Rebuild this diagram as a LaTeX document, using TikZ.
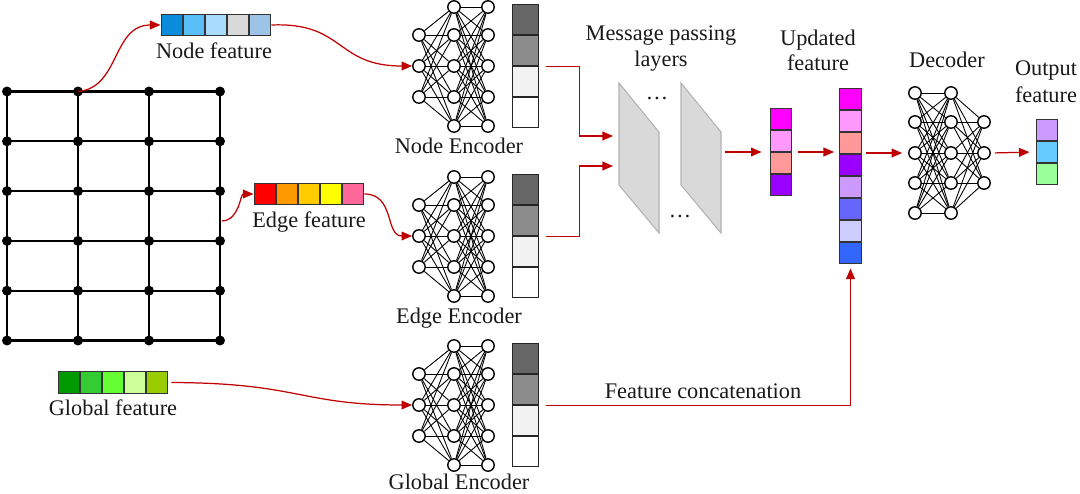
\documentclass[tikz,border=0pt]{standalone}
\usepackage{fontspec}
\setmainfont{Liberation Serif}
\newfontfamily\tnrfont{Liberation Serif}
\usetikzlibrary{arrows.meta,calc}
\newlength{\pxu}\setlength{\pxu}{0.5669pt}
\definecolor{myred}{HTML}{C00000}
\definecolor{nfa}{HTML}{0A8BDC}\definecolor{nfb}{HTML}{5ABFF8}\definecolor{nfc}{HTML}{A7DCFD}\definecolor{nfd}{HTML}{D9D9D9}\definecolor{nfe}{HTML}{9DC3E6}
\definecolor{efa}{HTML}{FF0000}\definecolor{efb}{HTML}{FF9900}\definecolor{efc}{HTML}{FFCC00}\definecolor{efd}{HTML}{FFFF00}\definecolor{efe}{HTML}{FF6699}
\definecolor{gfa}{HTML}{009900}\definecolor{gfb}{HTML}{33CC33}\definecolor{gfc}{HTML}{66FF33}\definecolor{gfd}{HTML}{CCFF99}\definecolor{gfe}{HTML}{99CC00}
\definecolor{enca}{HTML}{666666}\definecolor{encb}{HTML}{8C8C8C}\definecolor{encc}{HTML}{F2F2F2}\definecolor{encd}{HTML}{FFFFFF}
\definecolor{ufa}{HTML}{FF00FF}\definecolor{ufb}{HTML}{FF99FF}\definecolor{ufc}{HTML}{FF9999}\definecolor{ufd}{HTML}{9900FF}
\definecolor{ufe}{HTML}{CC99FF}\definecolor{uff}{HTML}{6666FF}\definecolor{ufg}{HTML}{CCCCFF}\definecolor{ufh}{HTML}{3366FF}
\definecolor{ofa}{HTML}{CC99FF}\definecolor{ofb}{HTML}{66CCFF}\definecolor{ofc}{HTML}{99FF99}
\tikzset{
  dot/.style={circle,fill=black,inner sep=0pt,minimum size=10\pxu},
  gridline/.style={line width=1.2pt,black},
  neuron/.style={circle,draw=black,line width=0.8pt,fill=white,inner sep=0pt,minimum size=12.5\pxu},
  conn/.style={line width=0.5pt,black},
  cell/.style={rectangle,draw=black!80,line width=0.6pt,fill=#1,inner sep=0pt,minimum width=22\pxu,minimum height=22\pxu},
  mcell/.style={rectangle,draw=black!85,line width=0.6pt,fill=#1,inner sep=0pt,minimum width=27\pxu,minimum height=31\pxu},
  redarrow/.style={draw=myred,line width=0.7pt,-{Triangle[length=6pt,width=5pt]}},
  lbl/.style={font=\tnrfont\fontsize{12.7}{15}\selectfont,text=black!90,inner sep=0pt,anchor=base},
  mplayer/.style={fill=black!15,draw=black!30,line width=0.6pt},
}
\newcommand{\encoderblock}[2]{%
  \foreach \i/\y in {1/35,2/66,3/97}{\node[neuron] (#1a\i) at (419,{\y+#2}) {};}
  \foreach \i/\y in {1/7,2/35,3/66,4/97,5/126}{%
    \node[neuron] (#1b\i) at (454,{\y+#2}) {};
    \node[neuron] (#1c\i) at (488,{\y+#2}) {};}
  \foreach \i in {1,2,3}{\foreach \j in {1,...,5}{\draw[conn] (#1a\i) -- (#1b\j);}}
  \foreach \i in {1,...,5}{\foreach \j in {1,...,5}{\draw[conn] (#1b\i) -- (#1c\j);}}
  \foreach \k/\col in {1/enca,2/encb,3/encc,4/encd}{\node[mcell=\col] (#1m\k) at (525.5,{-11.5+31*\k+#2}) {};}
}
\begin{document}
\begin{tikzpicture}[x=0.02cm,y=-0.02cm]
\useasboundingbox (0,0) rectangle (1080,494);
% grid
\foreach \c/\x in {1/7,2/78,3/149,4/220}{
  \foreach \r/\y in {1/91.5,2/141.3,3/191.1,4/240.9,5/290.7,6/340.5}{
    \node[dot] (g\c-\r) at (\x,\y) {};}}
\foreach \c in {1,...,4}{\draw[gridline] (g\c-1.center) -- (g\c-6.center);}
\foreach \r in {1,...,6}{\draw[gridline] (g1-\r.center) -- (g4-\r.center);}
\coordinate (e0) at (222,221);
% feature bars
\foreach \k/\col in {1/nfa,2/nfb,3/nfc,4/nfd,5/nfe}{\node[cell=\col] (nf\k) at ({150+22*\k},25) {};}
\foreach \k/\col in {1/efa,2/efb,3/efc,4/efd,5/efe}{\node[cell=\col] (ef\k) at ({243+22*\k},194) {};}
\foreach \k/\col in {1/gfa,2/gfb,3/gfc,4/gfd,5/gfe}{\node[cell=\col] (gf\k) at ({47+22*\k},382.5) {};}
\node[lbl] (nflab) at (214,58) {Node feature};
\node[lbl] (eflab) at (309,227) {Edge feature};
\node[lbl] (gflab) at (113,415) {Global feature};
% encoders
\encoderblock{ne}{0}
\encoderblock{ee}{170}
\encoderblock{ge}{339}
\node[lbl] (nelab) at (459,153) {Node Encoder};
\node[lbl] (eelab) at (459,323) {Edge Encoder};
\node[lbl] (gelab) at (459,489) {Global Encoder};
% message passing layers
\draw[mplayer] (619,83) -- (659,132) -- (659,233) -- (619,185) -- cycle;
\draw[mplayer] (681,83) -- (721,132) -- (721,233) -- (681,185) -- cycle;
\node[lbl,anchor=center] (dots1) at (657,98) {\dots};
\node[lbl,anchor=center] (dots2) at (680,216) {\dots};
\node[lbl] (mplab1) at (661,40) {Message passing};
\node[lbl] (mplab2) at (661,66) {layers};
\coordinate (mpin1) at (613,136);
\coordinate (mpin2) at (613,166);
\coordinate (mpout) at (725,152);
% updated features
\foreach \k/\col in {1/ufa,2/ufb,3/ufc,4/ufd}{\node[cell=\col] (us\k) at (781,{97+22*\k}) {};}
\foreach \k/\col in {1/ufa,2/ufb,3/ufc,4/ufd,5/ufe,6/uff,7/ufg,8/ufh}{\node[cell=\col] (uf\k) at (850.5,{77+22*\k}) {};}
\node[lbl] (uplab1) at (818,45) {Updated};
\node[lbl] (uplab2) at (818,70) {feature};
% decoder
\foreach \i/\y in {1/93,2/122,3/153,4/183,5/213}{
  \node[neuron] (da\i) at (915,\y) {};
  \node[neuron] (db\i) at (951,\y) {};}
\foreach \i/\y in {1/122,2/153,3/183}{\node[neuron] (dc\i) at (984,\y) {};}
\foreach \i in {1,...,5}{\foreach \j in {1,...,5}{\draw[conn] (da\i) -- (db\j);}}
\foreach \i in {1,...,5}{\foreach \j in {1,2,3}{\draw[conn] (db\i) -- (dc\j);}}
\node[lbl] (declab) at (947,67) {Decoder};
% output
\foreach \k/\col in {1/ofa,2/ofb,3/ofc}{\node[cell=\col] (of\k) at (1047,{108+22*\k}) {};}
\node[lbl] (oflab1) at (1046,75) {Output};
\node[lbl] (oflab2) at (1046,102) {feature};
\node[lbl] (fclab) at (703,398) {Feature concatenation};
% red connectors
\draw[redarrow] (g2-1.center) .. controls (120,88) and (112,25) .. (nf1.west);
\draw[redarrow] (nf5.east) .. controls (345,22) and (335,66) .. (nea2.west);
\draw[redarrow] (e0) .. controls (240,220) and (240,194) .. (ef1.west);
\draw[redarrow] (ef5.east) .. controls (395,194) and (385,236) .. (eea2.west);
\draw[redarrow,shorten <=3\pxu] (gf5.east) .. controls (300,383) and (300,405) .. (gea2.west);
\draw[redarrow] ([xshift=7\pxu]nem2.south east) -- ++(33,0) |- (mpin1);
\draw[redarrow] ([xshift=7\pxu]eem2.south east) -- ++(33,0) |- (mpin2);
\draw[redarrow,shorten >=4\pxu] ([xshift=7\pxu]gem2.south east) -| (uf8.south);
\draw[redarrow,shorten >=8\pxu] (mpout) -- (mpout -| us1.west);
\draw[redarrow,shorten <=6\pxu,shorten >=5\pxu] (mpout -| us1.east) -- (mpout -| uf1.west);
\draw[redarrow,shorten <=4\pxu,shorten >=6\pxu] (uf1.east |- da3) -- (da3.west);
\draw[redarrow,shorten <=4\pxu,shorten >=6\pxu] (dc2.east) -- (of2.west);
\end{tikzpicture}
\end{document}
